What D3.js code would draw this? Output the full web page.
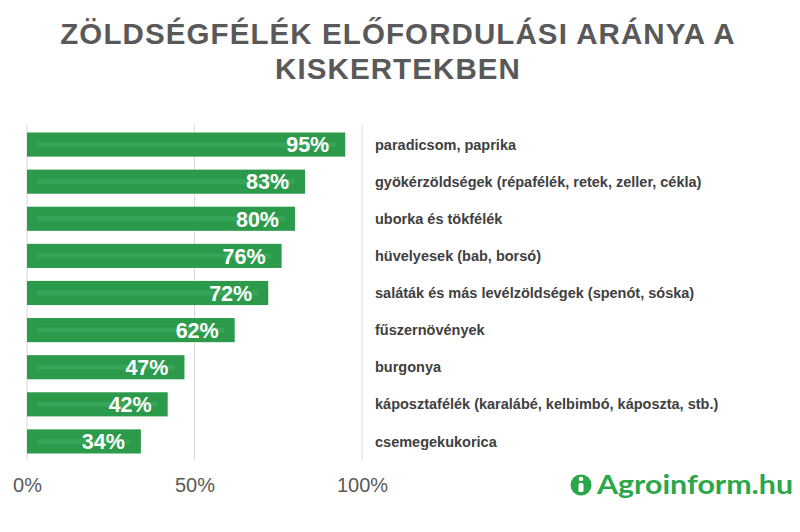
<!DOCTYPE html>
<html>
<head>
<meta charset="utf-8">
<script src="https://cdn.jsdelivr.net/npm/d3@7"></script>
<style>
  html, body { margin: 0; padding: 0; background: #ffffff; }
  svg { display: block; }
</style>
</head>
<body>
<svg id="chart" width="800" height="532"></svg>
<script>
const titleLines = ["ZÖLDSÉGFÉLÉK ELŐFORDULÁSI ARÁNYA A", "KISKERTEKBEN"];
const categories = [
  "paradicsom, paprika",
  "gyökérzöldségek (répafélék, retek, zeller, cékla)",
  "uborka és tökfélék",
  "hüvelyesek (bab, borsó)",
  "saláták és más levélzöldségek (spenót, sóska)",
  "fűszernövények",
  "burgonya",
  "káposztafélék (karalábé, kelbimbó, káposzta, stb.)",
  "csemegekukorica"
];
const values = [95, 83, 80, 76, 72, 62, 47, 42, 34];
const tickValues = [0, 50, 100];
const brand = "Agroinform.hu";

const svg = d3.select("#chart");
const font = "'Liberation Sans', Arial, sans-serif";

// Title
svg.append("g").selectAll("text").data(titleLines).join("text")
  .attr("x", 398).attr("y", (d, i) => 44 + i * 35)
  .attr("text-anchor", "middle")
  .attr("font-family", font).attr("font-weight", "bold")
  .attr("font-size", 29.5).attr("fill", "#595959")
  .attr("letter-spacing", 1.1)
  .text(d => d);

const x = d3.scaleLinear().domain([0, 100]).range([27, 362]);
const y = d3.scaleBand().domain(categories).range([126, 460]).paddingInner(0.35).paddingOuter(0.175);

// Gridlines
svg.append("g").selectAll("line").data(tickValues).join("line")
  .attr("x1", d => x(d)).attr("x2", d => x(d))
  .attr("y1", 125).attr("y2", 460)
  .attr("stroke", "#d9d9d9").attr("stroke-width", 1);

// Axis tick labels
const axis = d3.axisBottom(x).tickValues(tickValues).tickFormat(d => d + "%").tickSize(0).tickPadding(0);
const ag = svg.append("g").attr("transform", "translate(0,478)").call(axis);
ag.select(".domain").remove();
ag.selectAll("text")
  .attr("font-family", font).attr("font-size", 20).attr("fill", "#595959")
  .attr("dy", "0.71em");

// Bars
const bars = svg.append("g").selectAll("g").data(categories).join("g");
bars.append("rect")
  .attr("x", x(0)).attr("y", d => y(d))
  .attr("width", (d, i) => x(values[i]) - x(0))
  .attr("height", y.bandwidth())
  .attr("fill", "#2c9a4b");
bars.append("rect")
  .attr("x", x(0) + 10).attr("y", d => y(d) + y.bandwidth() / 2 - 2.5)
  .attr("width", (d, i) => Math.max(0, x(values[i]) - x(0) - 20))
  .attr("height", 5)
  .attr("fill", "#3aa85a").attr("opacity", 0.8);
bars.append("text")
  .attr("x", (d, i) => x(values[i]) - 16)
  .attr("y", d => y(d) + y.bandwidth() / 2)
  .attr("dy", "0.36em")
  .attr("text-anchor", "end")
  .attr("font-family", font).attr("font-weight", "bold")
  .attr("font-size", 21.5).attr("fill", "#ffffff")
  .text((d, i) => values[i] + "%");

// Category labels
svg.append("g").selectAll("text").data(categories).join("text")
  .attr("x", 375)
  .attr("y", d => y(d) + y.bandwidth() / 2)
  .attr("dy", "0.35em")
  .attr("font-family", font).attr("font-weight", "bold")
  .attr("font-size", 14.5).attr("fill", "#404040")
  .text(d => d);

// Logo
const logo = svg.append("g");
logo.append("circle").attr("cx", 581).attr("cy", 485).attr("r", 10.5).attr("fill", "#2aa748");
logo.append("circle").attr("cx", 581).attr("cy", 479).attr("r", 2.3).attr("fill", "#ffffff");
logo.append("rect").attr("x", 578.5).attr("y", 483).attr("width", 5).attr("height", 9).attr("rx", 1.5).attr("fill", "#ffffff");
logo.append("text")
  .attr("x", 597).attr("y", 494)
  .attr("font-family", "Lato, 'Liberation Sans', sans-serif").attr("font-weight", "bold")
  .attr("font-size", 26).attr("fill", "#2aa748")
  .attr("textLength", 196).attr("lengthAdjust", "spacingAndGlyphs")
  .text(brand);
</script>
</body>
</html>
